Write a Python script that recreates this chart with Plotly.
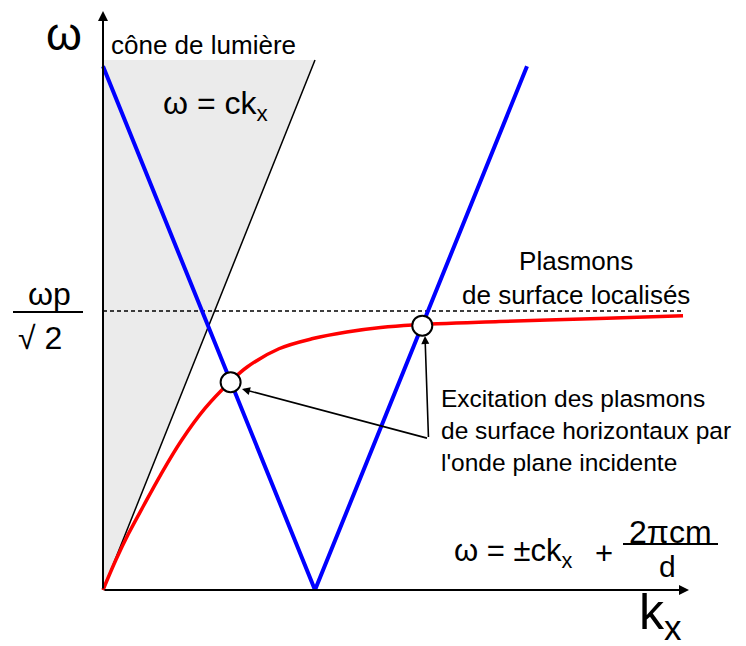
import plotly.graph_objects as go

# ---- data (kx, omega), arbitrary units ----
cone_kx = [0.0, 1.0]
cone_w = [0.0, 2.5]
fold_kx = [0.0, 1.0, 2.0]
fold_w = [2.47, 0.0, 2.47]
spp_kx = [0.0, 0.06, 0.12, 0.19, 0.27, 0.37, 0.48, 0.60, 0.68, 0.83, 0.99,
          1.15, 1.31, 1.46, 1.87, 2.34, 2.736]
spp_w = [0.0, 0.14, 0.265, 0.395, 0.54, 0.705, 0.855, 0.982, 1.052, 1.138, 1.186,
         1.217, 1.238, 1.250, 1.266, 1.281, 1.294]
wsp_level = 1.316
wsp_kx = [0.0, 2.736]
cross_kx = [0.602, 1.506]
cross_w = [0.980, 1.247]

# ---- pixel -> data helpers for text placement (page pixels) ----
S = 212.0
X0, Y0 = 103.0, 590.0
def px(x):
    return (x - X0) / S
def py(y):
    return (Y0 - y) / S

PAD = 8  # default page body margin
FONT = "Liberation Sans, Arial, sans-serif"

fig = go.Figure()

# light cone shaded region
fig.add_trace(go.Scatter(
    x=[cone_kx[0], cone_kx[0], cone_kx[1]],
    y=[cone_w[0], cone_w[1], cone_w[1]],
    fill="toself", fillcolor="#ebebeb", line=dict(width=0),
    mode="lines", hoverinfo="skip"))
# dashed omega_sp level
fig.add_trace(go.Scatter(x=wsp_kx, y=[wsp_level, wsp_level], mode="lines",
                         line=dict(color="black", width=1.3, dash="4px,3px")))
# light line
fig.add_trace(go.Scatter(x=cone_kx, y=cone_w, mode="lines",
                         line=dict(color="black", width=1.5)))
# folded light lines
fig.add_trace(go.Scatter(x=fold_kx, y=fold_w, mode="lines",
                         line=dict(color="#0000ff", width=4)))
# surface plasmon dispersion
fig.add_trace(go.Scatter(x=spp_kx, y=spp_w, mode="lines",
                         line=dict(color="#ff0000", width=3.5, shape="spline", smoothing=1.0)))
# crossing points
fig.add_trace(go.Scatter(x=cross_kx, y=cross_w, mode="markers",
                         marker=dict(size=20, color="white", line=dict(color="black", width=2))))

ann = []
# axes arrows
ann.append(dict(x=px(689), y=0, ax=px(103), ay=0, xref="x", yref="y", axref="x", ayref="y",
                text="", showarrow=True, arrowhead=2, arrowsize=1, arrowwidth=2, arrowcolor="black"))
ann.append(dict(x=0, y=py(11), ax=0, ay=0, xref="x", yref="y", axref="x", ayref="y",
                text="", showarrow=True, arrowhead=2, arrowsize=1, arrowwidth=2, arrowcolor="black"))
# pointer arrows to crossing points
ann.append(dict(x=px(242), y=py(389), ax=px(428.5), ay=py(438.5), xref="x", yref="y",
                axref="x", ayref="y", text="", showarrow=True, arrowhead=2, arrowsize=1,
                arrowwidth=1.6, arrowcolor="black"))
ann.append(dict(x=px(425), y=py(336), ax=px(428.5), ay=py(438.5), xref="x", yref="y",
                axref="x", ayref="y", text="", showarrow=True, arrowhead=2, arrowsize=1,
                arrowwidth=1.6, arrowcolor="black"))

def txt(x, y, t, size, xanchor="center", yanchor="middle", align="center"):
    ann.append(dict(x=px(x), y=py(y), xref="x", yref="y", text=t, showarrow=False,
                    xanchor=xanchor, yanchor=yanchor, align=align,
                    font=dict(family=FONT, size=size, color="black")))

txt(64, 34, "ω", 46)
txt(109, 45, "cône de lumière", 26, xanchor="left")
txt(215, 105, "ω = ck<sub>x</sub>", 32)
txt(49, 294, "ωp", 32)
txt(40, 338, "√ 2", 32)
txt(576, 278, "Plasmons<br>de surface localisés", 26)
txt(439, 430, "Excitation des plasmons<br>de surface horizontaux par<br>l'onde plane incidente",
    24.5, xanchor="left", align="left")
txt(452, 553, "ω = ±ck<sub>x</sub>", 31, xanchor="left")
txt(604, 553, "+", 31)
txt(670, 532, "2πcm", 32)
txt(667, 566, "d", 30)
txt(660, 615, "k<sub>x</sub>", 50)

shapes = [
    dict(type="line", xref="x", yref="y", x0=px(13), x1=px(83), y0=py(312), y1=py(312),
         line=dict(color="black", width=2)),
    dict(type="line", xref="x", yref="y", x0=px(623), x1=px(718), y0=py(544), y1=py(544),
         line=dict(color="black", width=2)),
]

fig.update_layout(
    width=746 - PAD, height=646 - PAD, margin=dict(l=0, r=0, t=0, b=0),
    paper_bgcolor="white", plot_bgcolor="white", showlegend=False,
    xaxis=dict(range=[px(PAD), px(746)], visible=False, fixedrange=True),
    yaxis=dict(range=[py(646), py(PAD)], visible=False, fixedrange=True),
    annotations=ann, shapes=shapes,
)

fig.write_html("out.html")
